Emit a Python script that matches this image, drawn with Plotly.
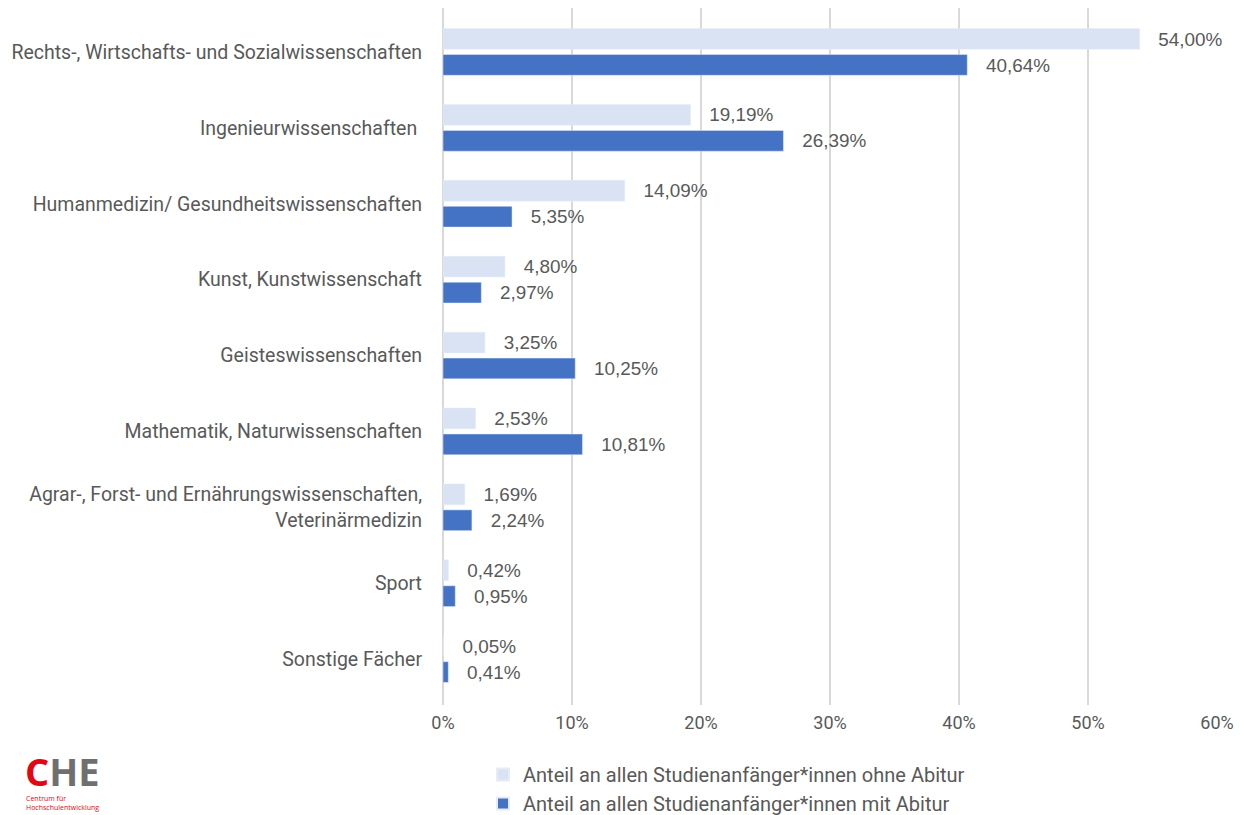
import plotly.graph_objects as go

categories = [
    "Rechts-, Wirtschafts- und Sozialwissenschaften",
    "Ingenieurwissenschaften ",
    "Humanmedizin/ Gesundheitswissenschaften",
    "Kunst, Kunstwissenschaft",
    "Geisteswissenschaften",
    "Mathematik, Naturwissenschaften",
    "Agrar-, Forst- und Ernährungswissenschaften,<br>Veterinärmedizin",
    "Sport",
    "Sonstige Fächer",
]
ohne_abitur = [54.00, 19.19, 14.09, 4.80, 3.25, 2.53, 1.69, 0.42, 0.05]
mit_abitur = [40.64, 26.39, 5.35, 2.97, 10.25, 10.81, 2.24, 0.95, 0.41]
series_names = [
    "Anteil an allen Studienanfänger*innen ohne Abitur",
    "Anteil an allen Studienanfänger*innen mit Abitur",
]
x_ticks = [0, 10, 20, 30, 40, 50, 60]
x_tick_labels = [f"{v}%" for v in x_ticks]

COND = "Roboto, Liberation Sans, Arial, sans-serif"
TXT = "#595959"
LBL = dict(family="Liberation Sans, Arial, sans-serif", size=20, color=TXT)

# the page body has an 8px margin, so the figure is sized to the visible area
W, H = 1235, 807
L, R, T, B = 435, 26, 0, 110
PW, PH = W - L - R, H - T - B


def px(x):
    return (x - L) / PW


def py(y):
    return (PH - (y - T)) / PH


fig = go.Figure()
for name, vals, col in [(series_names[0], ohne_abitur, "#DAE3F3"),
                        (series_names[1], mit_abitur, "#4472C4")]:
    fig.add_trace(go.Bar(
        y=categories, x=vals, orientation="h", name=name,
        marker=dict(color=col),
        texttemplate="   %{x:.2f}%", textposition="outside", cliponaxis=False,
        textfont=LBL,
    ))

fig.update_layout(
    width=W, height=H,
    margin=dict(l=L, r=R, t=T, b=B, autoexpand=False),
    plot_bgcolor="white", paper_bgcolor="white",
    barmode="group", bargap=0.316, bargroupgap=0.2,
    separators=",.",
    font=dict(family=COND, color=TXT, size=20),
    showlegend=True,
    legend=dict(
        orientation="v", traceorder="normal",
        x=px(475), xanchor="left", y=py(747), yanchor="top",
        font=dict(family=COND, size=20, color=TXT),
        itemsizing="constant", tracegroupgap=0,
        bgcolor="rgba(0,0,0,0)",
    ),
    xaxis=dict(
        range=[0, 60], tickmode="array", tickvals=x_ticks, ticktext=x_tick_labels,
        showgrid=True, gridcolor="#D9D9D9", gridwidth=1.5,
        zeroline=True, zerolinecolor="#D9D9D9", zerolinewidth=1.5,
        showline=False, ticks="", ticklabelstandoff=5,
        tickfont=dict(family=COND, size=18, color=TXT),
        fixedrange=True, automargin=False,
    ),
    yaxis=dict(
        range=[8.605, -0.579], showgrid=False, zeroline=False, showline=False,
        ticks="", ticklabelstandoff=20, automargin=False,
        tickfont=dict(family=COND, size=19.5, color=TXT),
    ),
)

# CHE logo
fig.add_annotation(xref="paper", yref="paper", x=px(15), y=py(735),
                   xanchor="left", yanchor="top",
                   text="<b><span style='color:#E30613'>C</span><span style='color:#6F6F6F'>HE</span></b>",
                   showarrow=False, font=dict(family="Open Sans, sans-serif", size=38))
fig.add_annotation(xref="paper", yref="paper", x=px(16), y=py(784),
                   xanchor="left", yanchor="top",
                   text="Centrum für<br>Hochschulentwicklung", align="left",
                   showarrow=False, font=dict(family="Open Sans, sans-serif", size=7, color="#E30613"))

fig.write_html("out.html")
